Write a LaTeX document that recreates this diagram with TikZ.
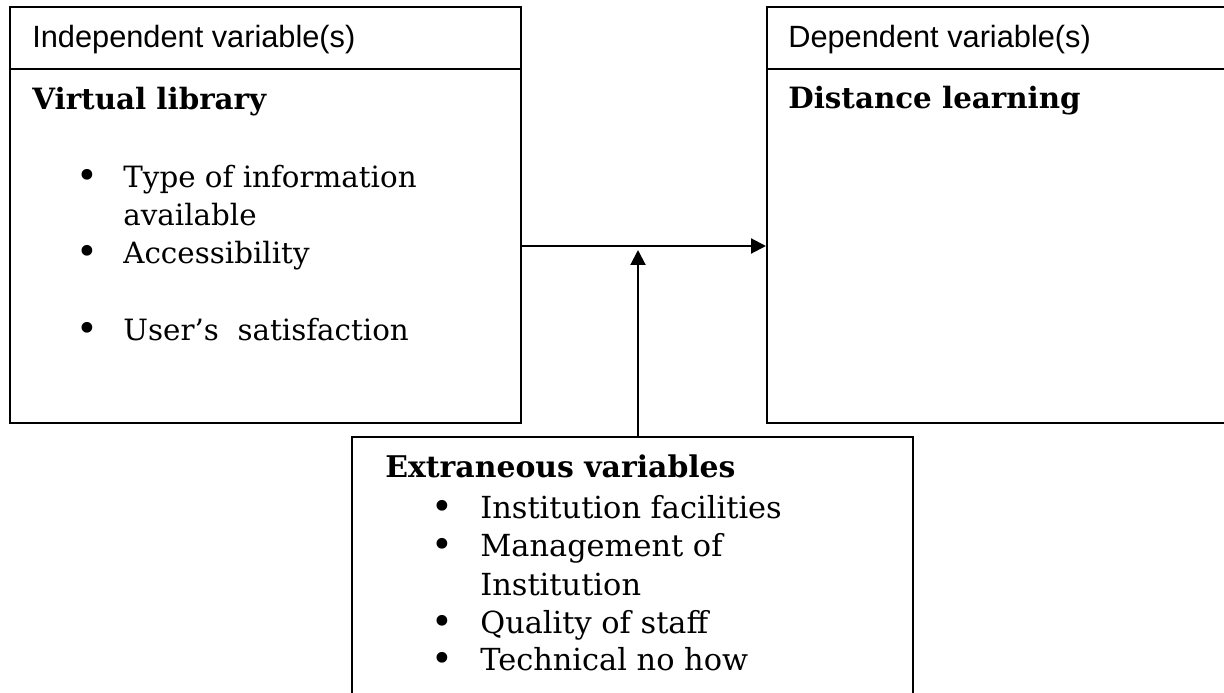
\documentclass[tikz,border=0pt]{standalone}
\usepackage{fontspec}
\setmainfont{DejaVu Serif}
\newfontfamily\headfont{Liberation Sans}
\usetikzlibrary{arrows.meta}

\begin{document}
\begin{tikzpicture}[x=0.02cm, y=-0.02cm,
    box/.style = {draw, line width=1.2pt, inner sep=0pt},
    head/.style = {box, minimum height=1.24cm},
    body/.style = {box, minimum height=7.08cm},
    headtext/.style = {anchor=base west, inner sep=0pt, font=\headfont\fontsize{17.5}{20}\selectfont},
    title/.style = {anchor=base west, inner sep=0pt, font=\bfseries\fontsize{16.7}{19}\selectfont},
    item/.style = {anchor=base west, inner sep=0pt, font=\fontsize{16.7}{19}\selectfont},
    dot/.style = {anchor=base, inner sep=0pt, font=\fontsize{21}{22}\selectfont},
    link/.style = {-{Triangle[length=0.3cm,width=0.3cm]}, line width=1.2pt}]
    \useasboundingbox (0,0) rectangle (1224,693);

    % left box
    \node at (265.5,38)  [head, minimum width=10.22cm] (indephead) {};
    \node at (265.5,246) [body, minimum width=10.22cm] (indepbody) {};
    \node at (32,47)  [headtext] (indeplabel) {Independent variable(s)};
    \node at (32,109) [title] (indeptitle) {Virtual library};
    \node at (87,188)  [dot] (d1) {•};
    \node at (123,187) [item] (i1) {Type of information};
    \node at (123,225) [item] (i1b) {available};
    \node at (87,264)  [dot] (d2) {•};
    \node at (123,263) [item] (i2) {Accessibility};
    \node at (87,341)  [dot] (d3) {•};
    \node at (123,340) [item] (i3) {User’s\ \ satisfaction};

    % right box
    \node at (1003.5,38)  [head, minimum width=9.46cm] (dephead) {};
    \node at (1003.5,246) [body, minimum width=9.46cm] (depbody) {};
    \node at (788,47)  [headtext] (deplabel) {Dependent variable(s)};
    \node at (788,108) [title] (deptitle) {Distance learning};

    % bottom box
    \node at (632.5,578.5) [box, minimum width=11.22cm, minimum height=5.66cm] (extra) {};
    \node at (385,477) [title, font=\bfseries\fontsize{17}{19}\selectfont] (extratitle) {Extraneous variables};
    \node at (442,519) [dot] (e1) {•};
    \node at (480,518) [item, font=\fontsize{17.3}{19}\selectfont] (x1) {Institution facilities};
    \node at (442,557) [dot] (e2) {•};
    \node at (480,556) [item, font=\fontsize{17.3}{19}\selectfont] (x2) {Management of};
    \node at (480,595) [item, font=\fontsize{17.3}{19}\selectfont] (x2b) {Institution};
    \node at (442,634) [dot] (e3) {•};
    \node at (480,633) [item, font=\fontsize{17.3}{19}\selectfont] (x3) {Quality of staff};
    \node at (442,671) [dot] (e4) {•};
    \node at (480,670) [item, font=\fontsize{17.3}{19}\selectfont] (x4) {Technical no how};

    % arrows
    \coordinate (up) at (638,437);
    \draw[link] (indepbody.east) -- (depbody.west);
    \draw[link, shorten >=0.08cm] (up) -- (up |- indepbody.east);
\end{tikzpicture}
\end{document}
